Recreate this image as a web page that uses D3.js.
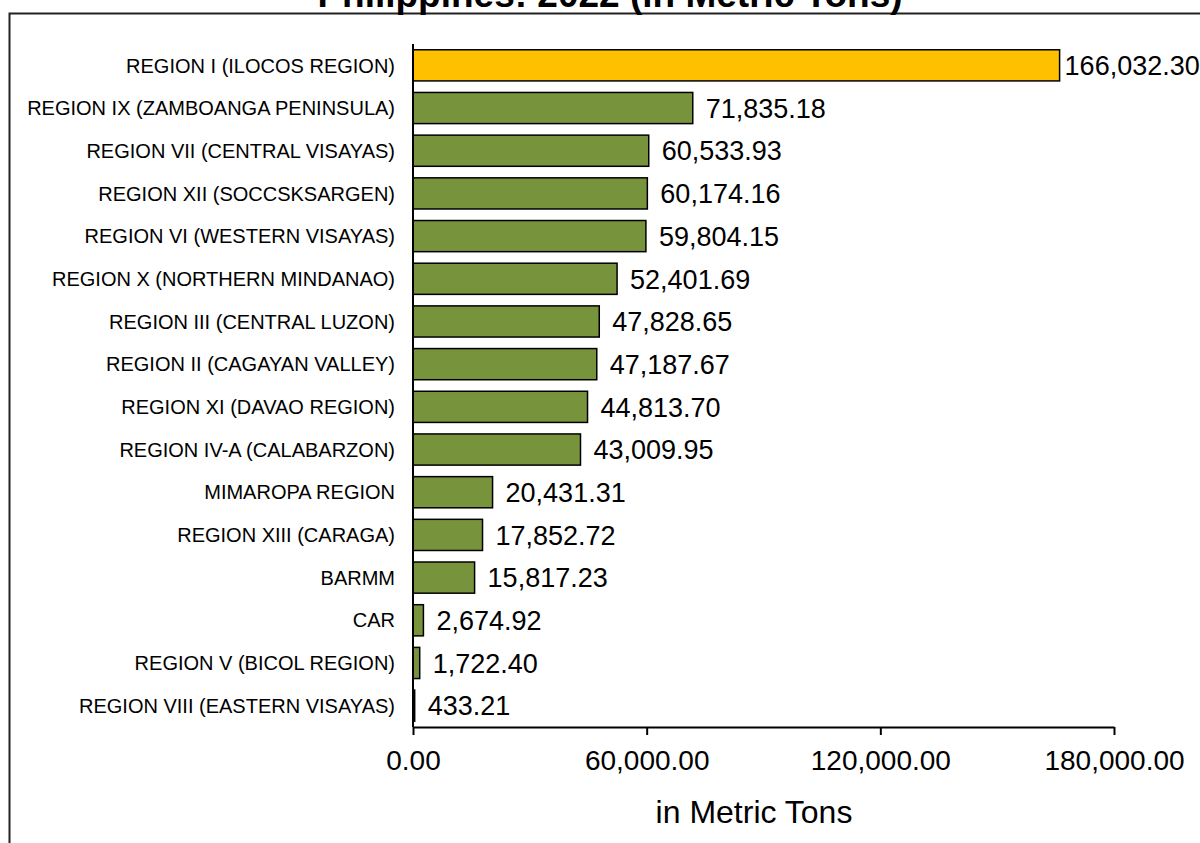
<!DOCTYPE html>
<html><head><meta charset="utf-8">
<script src="https://cdn.jsdelivr.net/npm/d3@7"></script>
<style>body{margin:0;background:#fff;} svg{display:block;font-family:Arial,"Liberation Sans",sans-serif;}</style>
</head><body>
<svg id="c" width="1200" height="843"></svg>
<script>
const categories = ["REGION I (ILOCOS REGION)","REGION IX (ZAMBOANGA PENINSULA)","REGION VII (CENTRAL VISAYAS)","REGION XII (SOCCSKSARGEN)","REGION VI (WESTERN VISAYAS)","REGION X (NORTHERN MINDANAO)","REGION III (CENTRAL LUZON)","REGION II (CAGAYAN VALLEY)","REGION XI (DAVAO REGION)","REGION IV-A (CALABARZON)","MIMAROPA REGION","REGION XIII (CARAGA)","BARMM","CAR","REGION V (BICOL REGION)","REGION VIII (EASTERN VISAYAS)"];
const values = [166032.30,71835.18,60533.93,60174.16,59804.15,52401.69,47828.65,47187.67,44813.70,43009.95,20431.31,17852.72,15817.23,2674.92,1722.40,433.21];
const tickValues = [0,60000,120000,180000];
const title = "Philippines: 2022 (in Metric Tons)";
const axisTitle = "in Metric Tons";

const svg = d3.select("#c");
const fmt = d3.format(",.2f");
const pLeft = 413, pRight = 1114, pTop = 44, pBottom = 727;
const x = d3.scaleLinear().domain([0,180000]).range([pLeft,pRight]);
const y = d3.scaleBand().domain(categories).range([pTop,pBottom]).paddingInner(0.27).paddingOuter(0.135);
const vmax = d3.max(values);

// border
svg.append("path").attr("d","M9.5,843 V13.5 H1200").attr("fill","none").attr("stroke","#222").attr("stroke-width",2);
svg.append("text").attr("x",610).attr("y",7).attr("text-anchor","middle").attr("font-size",37).attr("font-weight","bold").text(title);

svg.selectAll("rect.bar").data(values).join("rect").attr("class","bar")
  .attr("x",x(0)).attr("y",(d,i)=>y(categories[i]))
  .attr("width",d=>x(d)-x(0)).attr("height",y.bandwidth())
  .attr("fill",(d,i)=>i===0?"#FFC000":"#77933C").attr("stroke","#000").attr("stroke-width",1.5);

svg.selectAll("text.val").data(values).join("text").attr("class","val")
  .attr("x",d=>x(d)+(d===vmax?5:13)).attr("y",(d,i)=>y(categories[i])+y.bandwidth()/2).attr("dy","0.36em")
  .attr("font-size",27).text(d=>fmt(d));

svg.selectAll("text.cat").data(categories).join("text").attr("class","cat")
  .attr("x",395).attr("y",d=>y(d)+y.bandwidth()/2).attr("dy","0.36em")
  .attr("text-anchor","end").attr("font-size",20).text(d=>d);

svg.append("line").attr("x1",pLeft).attr("x2",pLeft).attr("y1",pTop).attr("y2",pBottom).attr("stroke","#000").attr("stroke-width",2);

const xa = svg.append("g").attr("transform",`translate(0,${pBottom})`)
  .call(d3.axisBottom(x).tickValues(tickValues).tickSize(8).tickSizeOuter(0).tickFormat(fmt));
xa.select(".domain").attr("stroke-width",2);
xa.selectAll(".tick line").attr("stroke-width",2);
xa.selectAll(".tick text").attr("y",43).attr("dy",null).attr("font-size",28).attr("font-family","Arial, 'Liberation Sans', sans-serif").attr("fill","#000");

svg.append("text").attr("x",754).attr("y",823).attr("text-anchor","middle").attr("font-size",32).text(axisTitle);
</script>
</body></html>
